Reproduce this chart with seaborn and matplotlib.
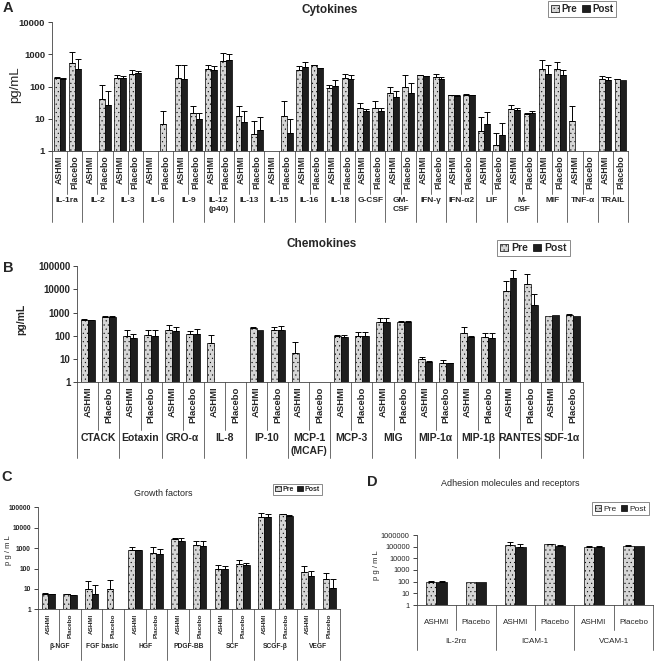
import numpy as np
import pandas as pd
import matplotlib
matplotlib.use("Agg")
import matplotlib.pyplot as plt
from matplotlib.patches import Patch
import seaborn as sns

nan = np.nan

# ---------------- data (ASHMI, Placebo per group) ----------------
arms = ["ASHMI", "Placebo"]

cyto_groups = ["IL-1ra", "IL-2", "IL-3", "IL-6", "IL-9", "IL-12\n(p40)", "IL-13", "IL-15",
               "IL-16", "IL-18", "G-CSF", "GM-\nCSF", "IFN-γ", "IFN-α2", "LIF", "M-\nCSF",
               "MIF", "TNF-α", "TRAIL"]
cyto_pre = [185, 520, nan, 42, 180, 250, nan, 7, 180, 15, 360, 620, 12.5, 3.3, nan, 12.5,
            330, 450, 92, 185, 21, 22, 62, 98, 220, 195, 53, 56, 4.2, 1.5, 20, 14.5,
            360, 360, 8.5, nan, 165, 172]
cyto_post = [165, 340, nan, 27, 180, 255, nan, nan, 165, 10, 320, 650, 8, 4.5, nan, 3.5,
             390, 370, 105, 170, 17, 17, 46, 63, 210, 165, 50, 55, 7, 3.1, 19, 15,
             250, 235, nan, nan, 155, 162]
cyto_pre_top = [195, 1150, nan, 110, 225, 320, nan, 18, 480, 24, 450, 1080, 25, 8.5, nan, 35,
                430, 470, 115, 250, 31, 35, 95, 220, 225, 250, 56, 58, 11, 3.6, 27, 15.5,
                660, 590, 24, nan, 210, 176]
cyto_post_top = [185, 700, nan, 75, 205, 310, nan, nan, 450, 15, 430, 1000, 17, 11.5, nan, 10,
                 570, 380, 160, 235, 20, 22, 75, 130, 215, 195, 53, 56, 16, 7.3, 22, 18,
                 460, 315, nan, nan, 200, nan]

chemo_groups = ["CTACK", "Eotaxin", "GRO-α", "IL-8", "IP-10", "MCP-1\n(MCAF)", "MCP-3", "MIG",
                "MIP-1α", "MIP-1β", "RANTES", "SDF-1α"]
chemo_pre = [500, 650, 100, 110, 185, 115, 48, nan, 210, 175, 19, nan,
             95, 100, 380, 380, 10, 7, 135, 90, 8300, 16500, 720, 760]
chemo_post = [460, 620, 78, 95, 165, 115, nan, nan, 180, 175, nan, nan,
              88, 100, 380, 380, 7.5, 6.5, 85, 80, 31000, 2100, 750, 730]
chemo_pre_top = [520, 700, 170, 175, 300, 155, 110, nan, 240, 240, 55, nan,
                 105, 140, 560, 450, 12.5, 8.7, 230, 135, 22000, 44000, nan, 880]
chemo_post_top = [500, 740, 120, 170, 230, 200, nan, nan, nan, 260, nan, nan,
                  105, 140, 600, 450, 8.5, 7, 100, 135, 70000, 6000, nan, nan]

gf_groups = ["β-NGF", "FGF basic", "HGF", "PDGF-BB", "SCF", "SCGF-β", "VEGF"]
gf_pre = [5.5, 5.4, 9.5, 10, 800, 600, 2700, 1350, 100, 170, 35000, 45000, 65, 30]
gf_post = [5.4, 5.0, 5.5, nan, 780, 530, 2300, 1200, 95, 145, 35000, 38000, 45, 11]
gf_pre_top = [6.3, 5.8, 25, 28, 1100, 1100, 3000, 2200, 150, 250, 55000, 48000, 140, 57]
gf_post_top = [5.8, 5.3, 16, nan, 850, 900, 3000, 2200, 130, 190, 45000, 42000, 78, 30]

adh_groups = ["IL-2rα", "ICAM-1", "VCAM-1"]
adh_pre = [88, 88, 150000, 170000, 100000, 125000]
adh_post = [92, 90, 100000, 125000, 100000, 105000]
adh_pre_top = [120, nan, 230000, 185000, 105000, 135000]
adh_post_top = [120, nan, 160000, 150000, 110000, nan]

PRE_C = "#d6d6d6"
POST_C = "#1e1e1e"

sns.set_style("white")
plt.rcParams["font.family"] = ["Liberation Sans", "DejaVu Sans"]
plt.rcParams["hatch.color"] = "#a0a0a0"
plt.rcParams["hatch.linewidth"] = 0.3

fig = plt.figure(figsize=(6.55, 6.63), dpi=100)
W, H = 655.0, 663.0


def fig_axes(x0, x1, ytop, ybot):
    return fig.add_axes([x0 / W, 1 - ybot / H, (x1 - x0) / W, (ybot - ytop) / H])


def draw_panel(ax, groups, pre, post, pre_top, post_top, ymax, sub_fs, grp_fs, tick_fs,
               sub_len, grp_len, grp_y, width=0.78, rotate=True, sub_y=None, weight="bold"):
    keys = [f"{g}|{a}" for g in groups for a in arms]
    n = len(keys)
    df = pd.DataFrame({"key": keys * 2,
                       "time": ["Pre"] * n + ["Post"] * n,
                       "value": list(pre) + list(post)})
    df["value"] = df["value"].fillna(1.0)
    sns.barplot(data=df, x="key", y="value", hue="time", order=keys,
                hue_order=["Pre", "Post"], palette={"Pre": PRE_C, "Post": POST_C},
                edgecolor="black", linewidth=0.5, width=width, errorbar=None,
                legend=False, ax=ax)
    ax.set_yscale("log")
    for p in ax.containers[0]:
        p.set_hatch("....")

    # upper error bars
    for cont, vals, tops in [(ax.containers[0], pre, pre_top), (ax.containers[1], post, post_top)]:
        xs, ys, es = [], [], []
        for p, v, t in zip(cont, vals, tops):
            if np.isnan(v) or np.isnan(t):
                continue
            xs.append(p.get_x() + p.get_width() / 2)
            ys.append(v)
            es.append(t - v)
        ax.errorbar(xs, ys, yerr=[np.zeros(len(es)), es], fmt="none", ecolor="black",
                    elinewidth=0.7, capsize=2, capthick=0.7)

    ax.set_xlim(-0.5, n - 0.5)
    ax.set_ylim(1, ymax)
    ticks = [10 ** k for k in range(int(np.log10(ymax)) + 1)]
    ax.set_yticks(ticks)
    ax.set_yticklabels([str(t) for t in ticks], fontsize=tick_fs, fontweight=weight)
    ax.minorticks_off()
    ax.tick_params(axis="y", length=3, width=0.6, pad=2, left=True)
    ax.set_xlabel("")
    ax.set_ylabel("")
    sns.despine(ax=ax)
    for s in ["left", "bottom"]:
        ax.spines[s].set_linewidth(0.6)
        ax.spines[s].set_color("#444444")

    tr = ax.get_xaxis_transform()
    ax.set_xticks(range(n))
    if rotate:
        ax.set_xticklabels(arms * len(groups), rotation=90, fontsize=sub_fs, fontweight=weight)
        ax.tick_params(axis="x", length=0, pad=3)
    else:
        ax.set_xticklabels([])
        ax.tick_params(axis="x", length=0)
        for i, k in enumerate(keys):
            ax.text(i, -sub_y, k.split("|")[1], transform=tr, ha="center", va="center",
                    fontsize=sub_fs, fontweight=weight)
    # table-like dividers
    for i in range(n + 1):
        b = i - 0.5
        length = grp_len if i % 2 == 0 else sub_len
        ax.plot([b, b], [0, -length], transform=tr, clip_on=False, color="#555555", lw=0.6)
    for j, g in enumerate(groups):
        ax.text(2 * j + 0.5, -grp_y, g, transform=tr, ha="center", va="top",
                fontsize=grp_fs, fontweight=weight, linespacing=1.3)


def add_legend(ax, x, y, fs, weight="bold"):
    handles = [Patch(facecolor=PRE_C, edgecolor="black", hatch="....", lw=0.5),
               Patch(facecolor=POST_C, edgecolor="black", lw=0.5)]
    leg = ax.legend(handles, ["Pre", "Post"], ncol=2, loc="upper left",
                    bbox_to_anchor=(x / W, 1 - y / H), bbox_transform=fig.transFigure,
                    frameon=True, fancybox=False, edgecolor="#555555",
                    handlelength=0.8, handleheight=0.8, handletextpad=0.25,
                    columnspacing=0.5, borderpad=0.3, borderaxespad=0,
                    prop={"size": fs, "weight": weight})
    leg.get_frame().set_linewidth(0.6)


# ---------------- A: Cytokines ----------------
axA = fig_axes(52, 628, 22, 151)
draw_panel(axA, cyto_groups, cyto_pre, cyto_post, cyto_pre_top, cyto_post_top, 10000,
           sub_fs=6.3, grp_fs=6.0, tick_fs=6.8, sub_len=0.33, grp_len=0.55, grp_y=0.36,
           width=0.78)
add_legend(axA, 548, 1, 7.0)
fig.text(330 / W, 1 - 10 / H, "Cytokines", ha="center", va="center", fontsize=8.5, fontweight="bold")
fig.text(3 / W, 1 - 8 / H, "A", ha="left", va="center", fontsize=10.5, fontweight="bold")
fig.text(15 / W, 1 - 85 / H, "pg/mL", rotation=90, ha="center", va="center", fontsize=9.5)

# ---------------- B: Chemokines ----------------
axB = fig_axes(77.3, 583.3, 266, 382.3)
draw_panel(axB, chemo_groups, chemo_pre, chemo_post, chemo_pre_top, chemo_post_top, 100000,
           sub_fs=6.8, grp_fs=7.5, tick_fs=7.0, sub_len=0.41, grp_len=0.65, grp_y=0.44,
           width=0.66)
add_legend(axB, 497, 240, 7.5)
fig.text(322 / W, 1 - 244 / H, "Chemokines", ha="center", va="center", fontsize=8.5, fontweight="bold")
fig.text(3 / W, 1 - 268 / H, "B", ha="left", va="center", fontsize=10.5, fontweight="bold")
fig.text(21 / W, 1 - 319 / H, "pg/mL", rotation=90, ha="center", va="center", fontsize=7.5, fontweight="bold")

# ---------------- C: Growth factors ----------------
axC = fig_axes(37.7, 340, 507.3, 609.3)
draw_panel(axC, gf_groups, gf_pre, gf_post, gf_pre_top, gf_post_top, 100000,
           sub_fs=4.6, grp_fs=4.8, tick_fs=4.8, sub_len=0.32, grp_len=0.50, grp_y=0.33,
           width=0.62)
add_legend(axC, 273, 484, 5.0)
fig.text(163 / W, 1 - 493 / H, "Growth factors", ha="center", va="center", fontsize=6.5)
fig.text(1 / W, 1 - 477 / H, "C", ha="left", va="center", fontsize=10.5, fontweight="bold")
fig.text(9 / W, 1 - 550 / H, "p g / m L", rotation=90, ha="center", va="center", fontsize=5.5)

# ---------------- D: Adhesion molecules ----------------
axD = fig_axes(416.7, 653.3, 535, 605)
draw_panel(axD, adh_groups, adh_pre, adh_post, adh_pre_top, adh_post_top, 1000000,
           sub_fs=5.8, grp_fs=5.8, tick_fs=5.3, sub_len=0.36, grp_len=0.64, grp_y=0.47,
           width=0.52, rotate=False, sub_y=0.245, weight="normal")
add_legend(axD, 592, 502, 6.0, weight="normal")
fig.text(510 / W, 1 - 483 / H, "Adhesion molecules and receptors", ha="center", va="center", fontsize=6.5)
fig.text(367 / W, 1 - 482 / H, "D", ha="left", va="center", fontsize=10.5, fontweight="bold")
fig.text(377 / W, 1 - 565 / H, "p g / m L", rotation=90, ha="center", va="center", fontsize=5.5)

fig.savefig("out.png", dpi=100, facecolor="white")
